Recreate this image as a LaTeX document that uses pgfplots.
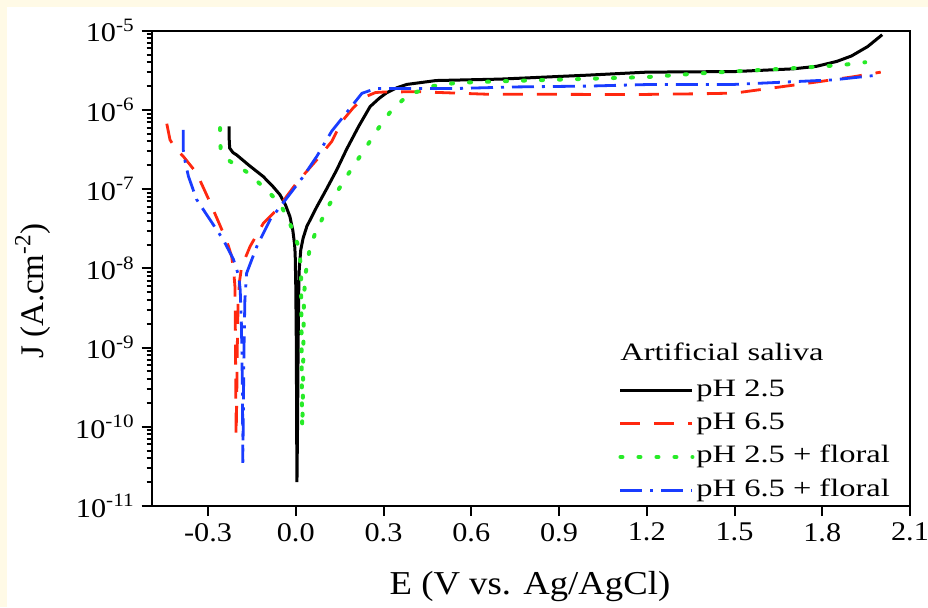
\documentclass[border=0pt]{standalone}
\usepackage{pgfplots}
\pgfplotsset{compat=1.18}
\usepackage{fontspec}
\setmainfont{Liberation Serif}
\newfontfamily\tickfont[FakeStretch=1.12]{Liberation Serif}
\newfontfamily\labfont[FakeStretch=1.1]{Liberation Serif}
\newfontfamily\legfont[FakeStretch=1.3]{Liberation Serif}
\definecolor{cream}{RGB}{255,250,230}
\definecolor{cred}{RGB}{255,40,15}
\definecolor{cgreen}{RGB}{40,235,40}
\definecolor{cblue}{RGB}{25,60,255}

\pgfplotstableread{
x y
-0.228 6.2e-7
-0.228 4.5e-7
-0.226 3.3e-7
-0.215 2.9e-7
-0.202 2.7e-7
-0.16 2.0e-7
-0.112 1.45e-7
-0.08 1.1e-7
-0.054 8.5e-8
-0.035 6.3e-8
-0.02 4.5e-8
-0.01 3.0e-8
-0.004 2.0e-8
-0.002 1.5e-8
0.000 6e-9
0.002 1e-9
0.003 1e-10
0.004 2e-11
0.006 1e-10
0.008 1e-9
0.010 5e-9
0.012 1e-8
0.017 1.7e-8
0.025 2.4e-8
0.038 3.4e-8
0.072 6.0e-8
0.105 1e-7
0.14 1.75e-7
0.174 3.2e-7
0.215 6.2e-7
0.254 1.1e-6
0.285 1.4e-6
0.311 1.65e-6
0.345 1.9e-6
0.38 2.1e-6
0.48 2.35e-6
0.7 2.45e-6
1.0 2.75e-6
1.2 3.0e-6
1.5 3.05e-6
1.7 3.3e-6
1.78 3.55e-6
1.85 4.1e-6
1.9 4.8e-6
1.955 6.3e-6
2.005 8.9e-6
}\tblack

\pgfplotstableread{
x y
-0.441 6.7e-7
-0.43 4.2e-7
-0.41 3.2e-7
-0.385 2.6e-7
-0.339 1.6e-7
-0.293 6.8e-8
-0.248 2.8e-8
-0.230 1.9e-8
-0.219 1.4e-8
-0.212 9e-9
-0.208 5.9e-9
-0.206 1e-9
-0.205 2e-10
-0.204 7.6e-11
-0.202 2e-10
-0.200 1e-9
-0.197 4e-9
-0.192 7e-9
-0.185 1.05e-8
-0.156 1.9e-8
-0.111 3.7e-8
-0.065 5.5e-8
0.003 1.2e-7
0.072 2.35e-7
0.123 4.0e-7
0.157 7.1e-7
0.197 1.07e-6
0.235 1.45e-6
0.273 1.66e-6
0.30 1.68e-6
0.414 1.7e-6
0.65 1.58e-6
1.0 1.57e-6
1.2 1.57e-6
1.383 1.6e-6
1.5 1.63e-6
1.61 1.85e-6
1.78 2.25e-6
1.9 2.6e-6
2.0 3.0e-6
}\tred

\pgfplotstableread{
x y
-0.259 5.9e-7
-0.258 4e-7
-0.257 3.2e-7
-0.240 2.6e-7
-0.225 2.25e-7
-0.168 1.65e-7
-0.111 1.07e-7
-0.054 6.6e-8
-0.02 3.7e-8
0.009 1.9e-8
0.015 1.3e-8
0.018 8e-9
0.020 1e-9
0.021 2e-10
0.022 9.8e-11
0.024 2e-10
0.026 1e-9
0.028 4e-9
0.032 7.9e-9
0.049 1.9e-8
0.072 3.1e-8
0.117 6.6e-8
0.174 1.45e-7
0.243 3.5e-7
0.283 5.9e-7
0.328 1.0e-6
0.385 1.55e-6
0.47 2.0e-6
0.55 2.2e-6
0.70 2.3e-6
1.04 2.5e-6
1.2 2.6e-6
1.383 2.9e-6
1.725 3.4e-6
1.87 3.7e-6
1.947 4.0e-6
}\tgreen

\pgfplotstableread{
x y
-0.385 5.6e-7
-0.385 3.2e-7
-0.378 2.2e-7
-0.367 1.45e-7
-0.339 7.4e-8
-0.293 4.1e-8
-0.248 2.3e-8
-0.213 1.3e-8
-0.195 8e-9
-0.19 5.4e-9
-0.186 2e-9
-0.184 8e-10
-0.182 2e-10
-0.181 3.5e-11
-0.179 2e-10
-0.177 1e-9
-0.174 4e-9
-0.168 8.7e-9
-0.133 1.9e-8
-0.088 4.1e-8
-0.042 6.8e-8
0.026 1.45e-7
0.072 2.6e-7
0.123 5.4e-7
0.19 1.1e-6
0.226 1.62e-6
0.273 1.86e-6
0.54 1.86e-6
0.744 1.95e-6
1.0 2.0e-6
1.22 2.1e-6
1.5 2.1e-6
1.84 2.4e-6
1.99 2.75e-6
}\tblue

\begin{document}
\begin{tikzpicture}
\path[use as bounding box] (0,0) rectangle (464pt,303.5pt);
\fill[white] (0,0) rectangle (464pt,303.5pt);
\fill[cream] (0,300pt) rectangle (464pt,303.5pt);
\fill[cream] (0,0) rectangle (3.5pt,303.5pt);
\begin{axis}[
  at={(75.85pt,50.5pt)}, anchor=south west,
  scale only axis, width=379.15pt, height=237.65pt,
  xmin=-0.4926, xmax=2.1, ymin=1e-11, ymax=1e-5,
  ymode=log,
  xtick={-0.3,0,0.3,0.6,0.9,1.2,1.5,1.8,2.1},
  xticklabels={-0.3,0.0,0.3,0.6,0.9,1.2,1.5,1.8,2.1},
  ytick={1e-11,1e-10,1e-9,1e-8,1e-7,1e-6,1e-5},
  yticklabels={10\textsuperscript{-11},10\textsuperscript{-10},10\textsuperscript{-9},10\textsuperscript{-8},10\textsuperscript{-7},10\textsuperscript{-6},10\textsuperscript{-5}},
  tick align=outside, xtick pos=bottom, ytick pos=left,
  major tick length=5pt, minor tick length=2.5pt,
  ticklabel style={font=\tickfont\fontsize{13.5}{15}\selectfont},
  axis line style={line width=1.1pt},
  every tick/.style={black, line width=1pt},
  /pgf/number format/assume math mode=true,
  legend cell align=left,
  legend image code/.code={\draw[#1] (0pt,0pt) -- (36pt,0pt);},
  legend style={draw=none, fill=none, inner sep=0pt,
    at={(axis description cs:0.615,0.274)}, anchor=north west,
    font=\legfont\fontsize{12.5}{15}\selectfont,
    row sep=2.7pt,
    nodes={inner sep=1pt, text height=9pt, text depth=3pt}},
]
\addplot[black, line width=1.5pt] table {\tblack};
\addlegendentry{pH 2.5}
\addplot[cred, line width=1.4pt, dash pattern=on 10pt off 7pt] table {\tred};
\addlegendentry{pH 6.5}
\addplot[cgreen, line width=2pt, line cap=round, dash pattern=on 1pt off 8pt] table {\tgreen};
\addlegendentry{pH 2.5 + floral}
\addplot[cblue, line width=1.4pt, dash pattern=on 11pt off 4pt on 1.5pt off 4pt] table {\tblue};
\addlegendentry{pH 6.5 + floral}
\end{axis}
\node[font=\labfont\fontsize{16.7}{20}\selectfont, anchor=base] at (265pt,6.5pt) {E (V vs. Ag/AgCl)};
\node[font=\fontsize{16.5}{20}\selectfont, rotate=90, anchor=base] at (21.5pt,158pt) {J (A.cm\textsuperscript{-2})};
\node[font=\legfont\fontsize{12.5}{15}\selectfont, anchor=west, inner sep=0pt] at (310pt,127.5pt) {Artificial saliva};
\end{tikzpicture}
\end{document}
